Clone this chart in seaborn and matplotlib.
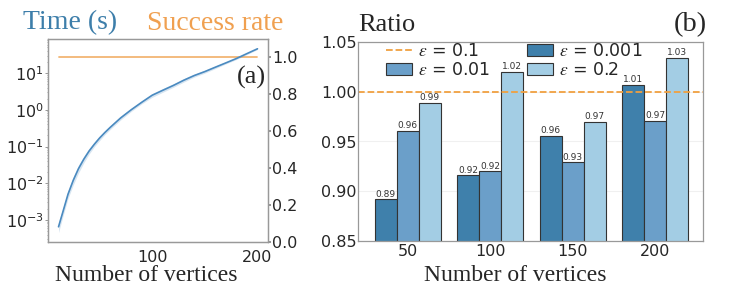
import numpy as np
import pandas as pd
import matplotlib
matplotlib.use("Agg")
import matplotlib.pyplot as plt
import seaborn as sns

# ---- data: panel (a) ----
n_vertices = [11, 15, 20, 25, 30, 35, 40, 45, 50, 55, 60, 70, 80, 90, 100, 110, 120, 130, 140, 150, 160, 170, 180, 190, 200]
time_mean = [6.5e-4, 1.6e-3, 5.0e-3, 1.2e-2, 2.5e-2, 4.5e-2, 7.5e-2, 1.15e-1, 1.7e-1, 2.4e-1, 3.3e-1, 6.0e-1, 1.0, 1.6, 2.5, 3.4, 4.6, 6.4, 8.6, 11.0, 14.5, 19.0, 25.0, 34.0, 46.0]
time_low = [4.5e-4, 1.2e-3, 3.8e-3, 9.0e-3, 1.9e-2, 3.6e-2, 6.2e-2, 9.8e-2, 1.45e-1, 2.1e-1, 2.9e-1, 5.3e-1, 0.9, 1.45, 2.2, 3.0, 4.1, 5.7, 7.8, 10.0, 13.3, 17.8, 23.5, 32.0, 44.0]
time_high = [8.5e-4, 2.0e-3, 6.2e-3, 1.5e-2, 3.1e-2, 5.4e-2, 8.8e-2, 1.32e-1, 1.95e-1, 2.7e-1, 3.7e-1, 6.7e-1, 1.1, 1.75, 2.75, 3.8, 5.1, 7.1, 9.4, 12.0, 15.7, 20.3, 26.5, 36.0, 48.0]
success_rate = [1.0] * len(n_vertices)

# ---- data: panel (b) ----
groups = ["50", "100", "150", "200"]
eps_labels = [r"$\varepsilon$ = 0.001", r"$\varepsilon$ = 0.01", r"$\varepsilon$ = 0.2"]
ratio_001 = [0.892, 0.916, 0.956, 1.007]
ratio_01 = [0.961, 0.920, 0.929, 0.971]
ratio_2 = [0.989, 1.020, 0.970, 1.034]
ref_ratio = 1.0
ref_label = r"$\varepsilon$ = 0.1"

sns.set_theme(style="white")
plt.rcParams['font.family'] = ['DejaVu Sans']
plt.rcParams['mathtext.fontset'] = 'stix'

blue = "#4a8ac0"
orange = "#f2b574"
serif = "Liberation Serif"

fig = plt.figure(figsize=(7.3, 2.98), dpi=100)
ax1 = fig.add_axes([48/730, 1 - 242/298, (268-48)/730, (242-39)/298])
ax2 = fig.add_axes([358/730, 1 - 241/298, (703-358)/730, (241-42)/298])

# panel (a)
df_a = pd.DataFrame({"n": n_vertices, "t": time_mean})
sns.lineplot(data=df_a, x="n", y="t", ax=ax1, color=blue, lw=1.2)
ax1.fill_between(n_vertices, time_low, time_high, color=blue, alpha=0.22, lw=0)
ax1.set_yscale("log")
ax1.set_xlim(1, 210)
ax1.set_ylim(2.5e-4, 85)
ax1.set_xticks([100, 200])
ax1.set_xlabel("Number of vertices", fontfamily=serif, fontsize=17)
ax1.xaxis.set_label_coords((146 - 48) / 220, -0.115)
ax1.set_ylabel("")
ax1.tick_params(axis="both", labelsize=11.5, pad=1)
ax1.tick_params(axis="x", pad=0)
ax1.tick_params(axis="y", which="major", length=2, width=0.6, left=True, color="#888888")
ax1.tick_params(axis="y", which="minor", length=1, width=0.5, left=True, color="#888888")
ax1.text(0.99, 0.81, "(a)", transform=ax1.transAxes, ha="right", va="center", fontfamily=serif, fontsize=19)

ax1r = ax1.twinx()
df_s = pd.DataFrame({"n": n_vertices, "s": success_rate})
sns.lineplot(data=df_s, x="n", y="s", ax=ax1r, color=orange, lw=1.3)
ax1r.set_ylim(0, 1.1)
ax1r.set_yticks([0.0, 0.2, 0.4, 0.6, 0.8, 1.0])
ax1r.set_ylabel("")
ax1r.tick_params(axis="y", labelsize=11.5, pad=1, length=2, right=True, color="#888888")
ax1.set_zorder(ax1r.get_zorder() + 1)
ax1.patch.set_visible(False)

for a in (ax1, ax1r):
    for s in a.spines.values():
        s.set_color("#999999")
        s.set_linewidth(0.9)

fig.text(23/730, 1 - 23/298, "Time (s)", color="#3d7eaa", fontfamily=serif, fontsize=20, va="center")
fig.text(147/730, 1 - 23/298, "Success rate", color="#f0a050", fontfamily=serif, fontsize=20, va="center")

# panel (b)
df_b = pd.DataFrame({
    "n": groups * 3,
    "eps": [eps_labels[0]] * 4 + [eps_labels[1]] * 4 + [eps_labels[2]] * 4,
    "ratio": ratio_001 + ratio_01 + ratio_2,
})
palette = ["#3f80ab", "#6b9fc9", "#a3cde4"]
sns.barplot(data=df_b, x="n", y="ratio", hue="eps", palette=palette, ax=ax2,
            edgecolor="#333333", linewidth=0.8, saturation=1, width=0.8)
line = ax2.axhline(ref_ratio, color="#f0a040", ls="--", lw=1.3, label=ref_label)
for c in ax2.containers:
    ax2.bar_label(c, fmt="%.2f", fontsize=6.5, padding=0.5, color="#333333")
ax2.set_ylim(0.85, 1.05)
ax2.set_xlim(-0.6, 3.58)
ax2.set_yticks([0.85, 0.90, 0.95, 1.00, 1.05])
ax2.set_yticklabels(["0.85", "0.90", "0.95", "1.00", "1.05"])
ax2.yaxis.grid(True, color="#f0f0f0", lw=0.8)
ax2.set_axisbelow(True)
ax2.set_xlabel("Number of vertices", fontfamily=serif, fontsize=17)
ax2.xaxis.set_label_coords((515 - 358) / 345, -0.12)
ax2.set_ylabel("")
ax2.tick_params(axis="both", labelsize=11.5, pad=1, length=0)
ax2.tick_params(axis="x", pad=2)
for s in ax2.spines.values():
    s.set_color("#999999")
    s.set_linewidth(0.9)
handles, labels = ax2.get_legend_handles_labels()
hmap = dict(zip(labels, handles))
order = [ref_label, eps_labels[1], eps_labels[0], eps_labels[2]]
ax2.legend([hmap[k] for k in order], order, ncol=2, frameon=False, fontsize=12.5,
           loc="upper left", bbox_to_anchor=(0.035, 1.08), handlelength=1.5,
           columnspacing=2.1, handletextpad=0.35, labelspacing=0.1)
fig.text(358/730, 1 - 25/298, "Ratio", fontfamily=serif, fontsize=19, va="center")
fig.text(707/730, 1 - 25/298, "(b)", fontfamily=serif, fontsize=20.5, va="center", ha="right")

fig.savefig("out.png", dpi=100)
